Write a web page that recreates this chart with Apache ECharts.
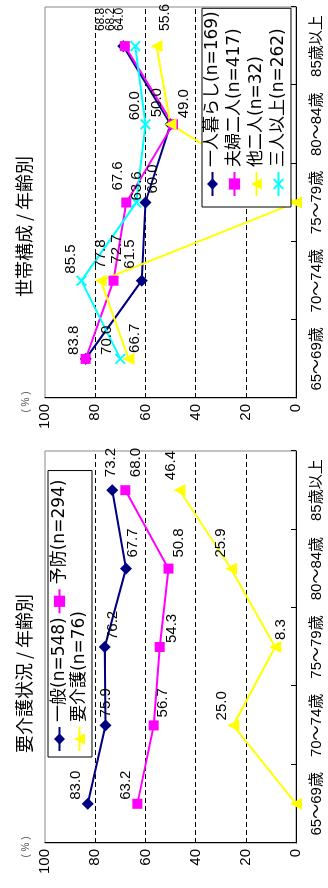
<!DOCTYPE html>
<html>
<head>
<meta charset="utf-8">
<script src="https://cdn.jsdelivr.net/npm/echarts@6/dist/echarts.min.js"></script>
<style>
  html, body { margin: 0; padding: 0; background: #fff; overflow: hidden; width: 328px; height: 888px; }
  /* the figure is laid out landscape and turned a quarter-turn to fit the portrait page */
  #chart { position: absolute; left: 0; top: 0; width: 888px; height: 328px;
           transform-origin: 0 0; transform: translate(0, 888px) rotate(-90deg); }
</style>
</head>
<body>
<div id="chart"></div>
<script>
// ---- data ----
const ageGroups = ['65～69歳', '70～74歳', '75～79歳', '80～84歳', '85歳以上'];
const percentTicks = [0, 20, 40, 60, 80, 100];

// 要介護状況 / 年齢別
const careNames = ['一般(n=548)', '予防(n=294)', '要介護(n=76)'];
const careGeneral = [83.0, 75.9, 76.2, 67.7, 73.2];
const carePrevention = [63.2, 56.7, 54.3, 50.8, 68.0];
const careNeeded = [0, 25.0, 8.3, 25.9, 46.4];

// 世帯構成 / 年齢別
const householdNames = ['一人暮らし(n=169)', '夫婦二人(n=417)', '他二人(n=32)', '三人以上(n=262)'];
const householdAlone = [83.8, 61.5, 60.0, 50.0, 68.8];
const householdCouple = [83.8, 72.7, 67.6, 49.0, 68.2];
const householdOtherTwo = [66.7, 77.8, 0, 50.0, 55.6];
const householdThreePlus = [70.0, 85.5, 63.6, 60.0, 64.0];

// ---- label placement: [dx, dy, fontSize] from the marker centre; null = no label ----
const shiftCareGeneral = [[4, -12], [8, 0], [7, 8], [11, 7], [13, -1]];
const shiftCarePrevention = [[4, -12], [8, 9], [4, 12], [11, 10], [13, 11]];
const shiftCareNeeded = [null, [5, -11], [7, 6], [11, -10], [10, -9]];
const shiftAlone = [null, [12, -12], [9, 7], [7, -14], [15, -23, 12]];
const shiftCouple = [[4, -12], [17, 3], [12, -8], [6, 11], [15, -14, 12]];
const shiftOtherTwo = [[6, 6], [12, 0], null, null, [15, 9, 14]];
const shiftThreePlus = [[4, -13], [7, -11], [2, 0], [4, -11], [15, -16, 12]];

const NUM_FONT = '"Liberation Sans", Arial, sans-serif';
const JP_FONT = '"Noto Sans CJK JP", sans-serif';
const MIXED_FONT = '"Liberation Sans", "Noto Sans CJK JP", sans-serif';
const LEGEND_FONT = '"DejaVu Sans", "Noto Sans CJK JP", sans-serif';

const crossPath = 'path://M0,1.2L1.2,0L5,3.8L8.8,0L10,1.2L6.2,5L10,8.8L8.8,10L5,6.2L1.2,10L0,8.8L3.8,5Z';

function points(values, shifts, size) {
  return values.map((v, i) => {
    const s = shifts[i];
    if (!s) return { value: v, label: { show: false } };
    const lab = { show: true, offset: [s[0] - size / 2, s[1]] };
    if (s[2]) lab.fontSize = s[2];
    return { value: v, label: lab };
  });
}

function lineSeries(name, values, shifts, color, symbol, size, gridIdx) {
  return {
    name: name,
    type: 'line',
    xAxisIndex: gridIdx,
    yAxisIndex: gridIdx,
    data: points(values, shifts, size),
    symbol: symbol,
    symbolSize: size,
    showAllSymbol: true,
    lineStyle: { color: color, width: 2 },
    itemStyle: { color: color, borderWidth: 0 },
    label: {
      show: true, position: 'right', distance: 0,
      fontSize: 15, fontFamily: NUM_FONT, color: '#000',
      formatter: p => p.value.toFixed(1)
    },
    emphasis: { disabled: true },
    animation: false
  };
}

function xAxisFor(gridIdx) {
  return {
    type: 'category', gridIndex: gridIdx, data: ageGroups, boundaryGap: true,
    axisLine: { lineStyle: { color: '#000', width: 1 } },
    axisTick: { show: true, inside: true, length: 5, lineStyle: { color: '#000' } },
    axisLabel: { fontSize: 15, fontFamily: MIXED_FONT, color: '#000', margin: 13, interval: 0 },
    splitLine: { show: false }
  };
}

function yAxisFor(gridIdx) {
  return {
    type: 'value', gridIndex: gridIdx,
    min: percentTicks[0], max: percentTicks[percentTicks.length - 1],
    interval: percentTicks[1] - percentTicks[0],
    name: '( % )', nameLocation: 'end', nameGap: 14,
    nameTextStyle: { fontSize: 10, color: '#555', fontFamily: NUM_FONT, padding: [0, 8, 0, 0] },
    axisLine: { show: true, lineStyle: { color: '#000', width: 1 } },
    axisTick: { show: false },
    axisLabel: { fontSize: 15, fontFamily: NUM_FONT, color: '#000', margin: 6 },
    splitLine: { show: true, showMinLine: false, showMaxLine: false,
                 lineStyle: { color: '#000', width: 1, type: [5, 3] } }
  };
}

const legendBase = {
  itemWidth: 24, itemHeight: 14,
  borderColor: '#000', borderWidth: 1, backgroundColor: '#fff',
  selectedMode: false, z: 10
};

const option = {
  backgroundColor: '#fff',
  animation: false,
  title: [
    { text: '要介護状況 / 年齢別', left: 135, top: 15, padding: 0,
      textStyle: { fontSize: 18, fontWeight: 'normal', color: '#000', fontFamily: JP_FONT } },
    { text: '世帯構成 / 年齢別', left: 591, top: 15, padding: 0,
      textStyle: { fontSize: 18, fontWeight: 'normal', color: '#000', fontFamily: JP_FONT } }
  ],
  grid: [
    { left: 45, top: 45, width: 392, height: 251, show: true, borderColor: '#888', borderWidth: 1 },
    { left: 490, top: 45, width: 391, height: 251, show: true, borderColor: '#888', borderWidth: 1 }
  ],
  legend: [
    Object.assign({}, legendBase, {
      left: 131, top: 48, width: 296, orient: 'horizontal', itemGap: 3,
      padding: [3, 9, 4, 5],
      data: careNames,
      // first entry carries a spacer so the second one sits further along the row
      formatter: name => name === careNames[0] ? name + '{gap|}' : name,
      textStyle: { fontSize: 17, fontFamily: LEGEND_FONT, color: '#000',
                   rich: { gap: { width: 20 } } }
    }),
    Object.assign({}, legendBase, {
      left: 681, top: 202, orient: 'vertical', itemGap: 5,
      padding: [2, 3, 4, 10],
      data: householdNames,
      textStyle: { fontSize: 17, fontFamily: LEGEND_FONT, color: '#000' }
    })
  ],
  xAxis: [xAxisFor(0), xAxisFor(1)],
  yAxis: [yAxisFor(0), yAxisFor(1)],
  series: [
    lineSeries(careNames[0], careGeneral, shiftCareGeneral, '#000080', 'diamond', 12, 0),
    lineSeries(careNames[1], carePrevention, shiftCarePrevention, '#FF00FF', 'rect', 10, 0),
    lineSeries(careNames[2], careNeeded, shiftCareNeeded, '#FFFF00', 'triangle', 12, 0),
    lineSeries(householdNames[0], householdAlone, shiftAlone, '#000080', 'diamond', 12, 1),
    lineSeries(householdNames[1], householdCouple, shiftCouple, '#FF00FF', 'rect', 10, 1),
    lineSeries(householdNames[2], householdOtherTwo, shiftOtherTwo, '#FFFF00', 'triangle', 12, 1),
    lineSeries(householdNames[3], householdThreePlus, shiftThreePlus, '#00FFFF', crossPath, 11, 1)
  ]
};

const chart = echarts.init(document.getElementById('chart'), null, { renderer: 'canvas', width: 888, height: 328 });
chart.setOption(option);
</script>
</body>
</html>
